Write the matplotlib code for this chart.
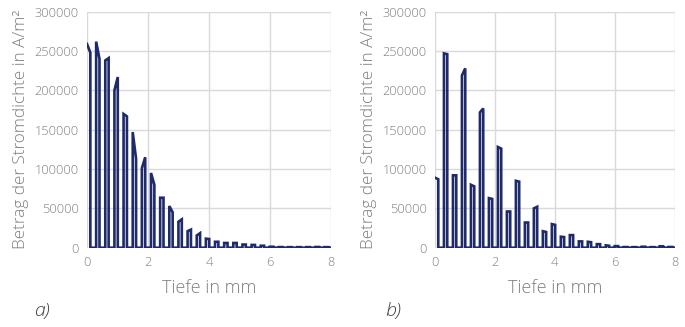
import matplotlib
matplotlib.use("Agg")
import matplotlib.pyplot as plt
import numpy as np

plt.rcParams['font.family'] = ['Open Sans', 'DejaVu Sans']

# pulse start depths (mm) and pulse width
starts_a = [0.0, 0.30, 0.60, 0.90, 1.20, 1.50, 1.80, 2.10, 2.40, 2.70, 3.00, 3.30, 3.60, 3.90,
            4.20, 4.50, 4.80, 5.10, 5.40, 5.70, 6.00, 6.30, 6.60, 6.90, 7.20, 7.50, 7.80]
top0_a = [259000, 262000, 238000, 200000, 170000, 147000, 101000, 95000, 63500, 53000, 33000,
          21000, 15500, 11500, 7500, 6000, 6000, 4000, 3500, 2500, 1200, 800, 700, 700, 700, 900, 700]
top1_a = [248000, 240000, 241000, 217000, 167000, 113000, 115000, 80000, 63500, 45000, 36000,
          23000, 18500, 11000, 7500, 6000, 6000, 4000, 3500, 2500, 1200, 800, 700, 700, 700, 900, 700]

starts_b = starts_a
top0_b = [89000, 247000, 92000, 219000, 80000, 172000, 63000, 128000, 46000, 85000, 32000,
          50000, 21000, 30000, 14000, 16000, 8000, 7500, 4500, 3000, 2000, 800, 700, 1200, 700, 1800, 900]
top1_b = [87000, 246000, 92000, 228000, 78000, 177000, 62000, 126000, 46000, 84000, 32000,
          52000, 20000, 29000, 13500, 16000, 8000, 7000, 4500, 2500, 2000, 800, 700, 1200, 700, 1800, 900]
pulse_w = 0.11

x_ticks = [0, 2, 4, 6, 8]
y_ticks = [0, 50000, 100000, 150000, 200000, 250000, 300000]

line_col = '#1f2a6b'
txt_col = '#7f7f7f'
grid_col = '#d9d9d9'


def trace(starts, t0, t1):
    xs, ys = [], []
    for s, a, b in zip(starts, t0, t1):
        xs += [s, s, s + pulse_w, s + pulse_w]
        ys += [0 if s > 0 else a, a, b, 0]
    xs.append(8.0)
    ys.append(0)
    return xs, ys


fig = plt.figure(figsize=(6.85, 3.27), dpi=100)
ax_a = fig.add_axes([0.127, 0.2425, 0.356, 0.7217])
ax_b = fig.add_axes([0.635, 0.2425, 0.350, 0.7217])

for ax, data in [(ax_a, (starts_a, top0_a, top1_a)),
                 (ax_b, (starts_b, top0_b, top1_b))]:
    xs, ys = trace(*data)
    ax.plot(xs, ys, color=line_col, lw=1.9, solid_joinstyle='miter')
    ax.set_xlim(0, 8)
    ax.set_ylim(0, 300000)
    ax.set_xticks(x_ticks)
    ax.set_yticks(y_ticks)
    ax.grid(True, color=grid_col, lw=1)
    ax.set_axisbelow(True)
    for sp in ax.spines.values():
        sp.set_visible(False)
    ax.tick_params(length=0, labelsize=9.2, labelcolor=txt_col, pad=6)
    for t in ax.get_xticklabels() + ax.get_yticklabels():
        t.set_fontweight('light')
    ax.set_xlabel('Tiefe in mm', fontsize=13, color=txt_col, labelpad=7, fontweight='light')
    ax.set_ylabel('Betrag der Stromdichte in A/m²', fontsize=12.3, color=txt_col,
                  labelpad=4, fontweight='light')

fig.text(0.05, 0.035, 'a)', fontsize=14, style='italic', color='#404040', fontweight='light')
fig.text(0.562, 0.035, 'b)', fontsize=14, style='italic', color='#404040', fontweight='light')

fig.savefig('out.png', dpi=100)
